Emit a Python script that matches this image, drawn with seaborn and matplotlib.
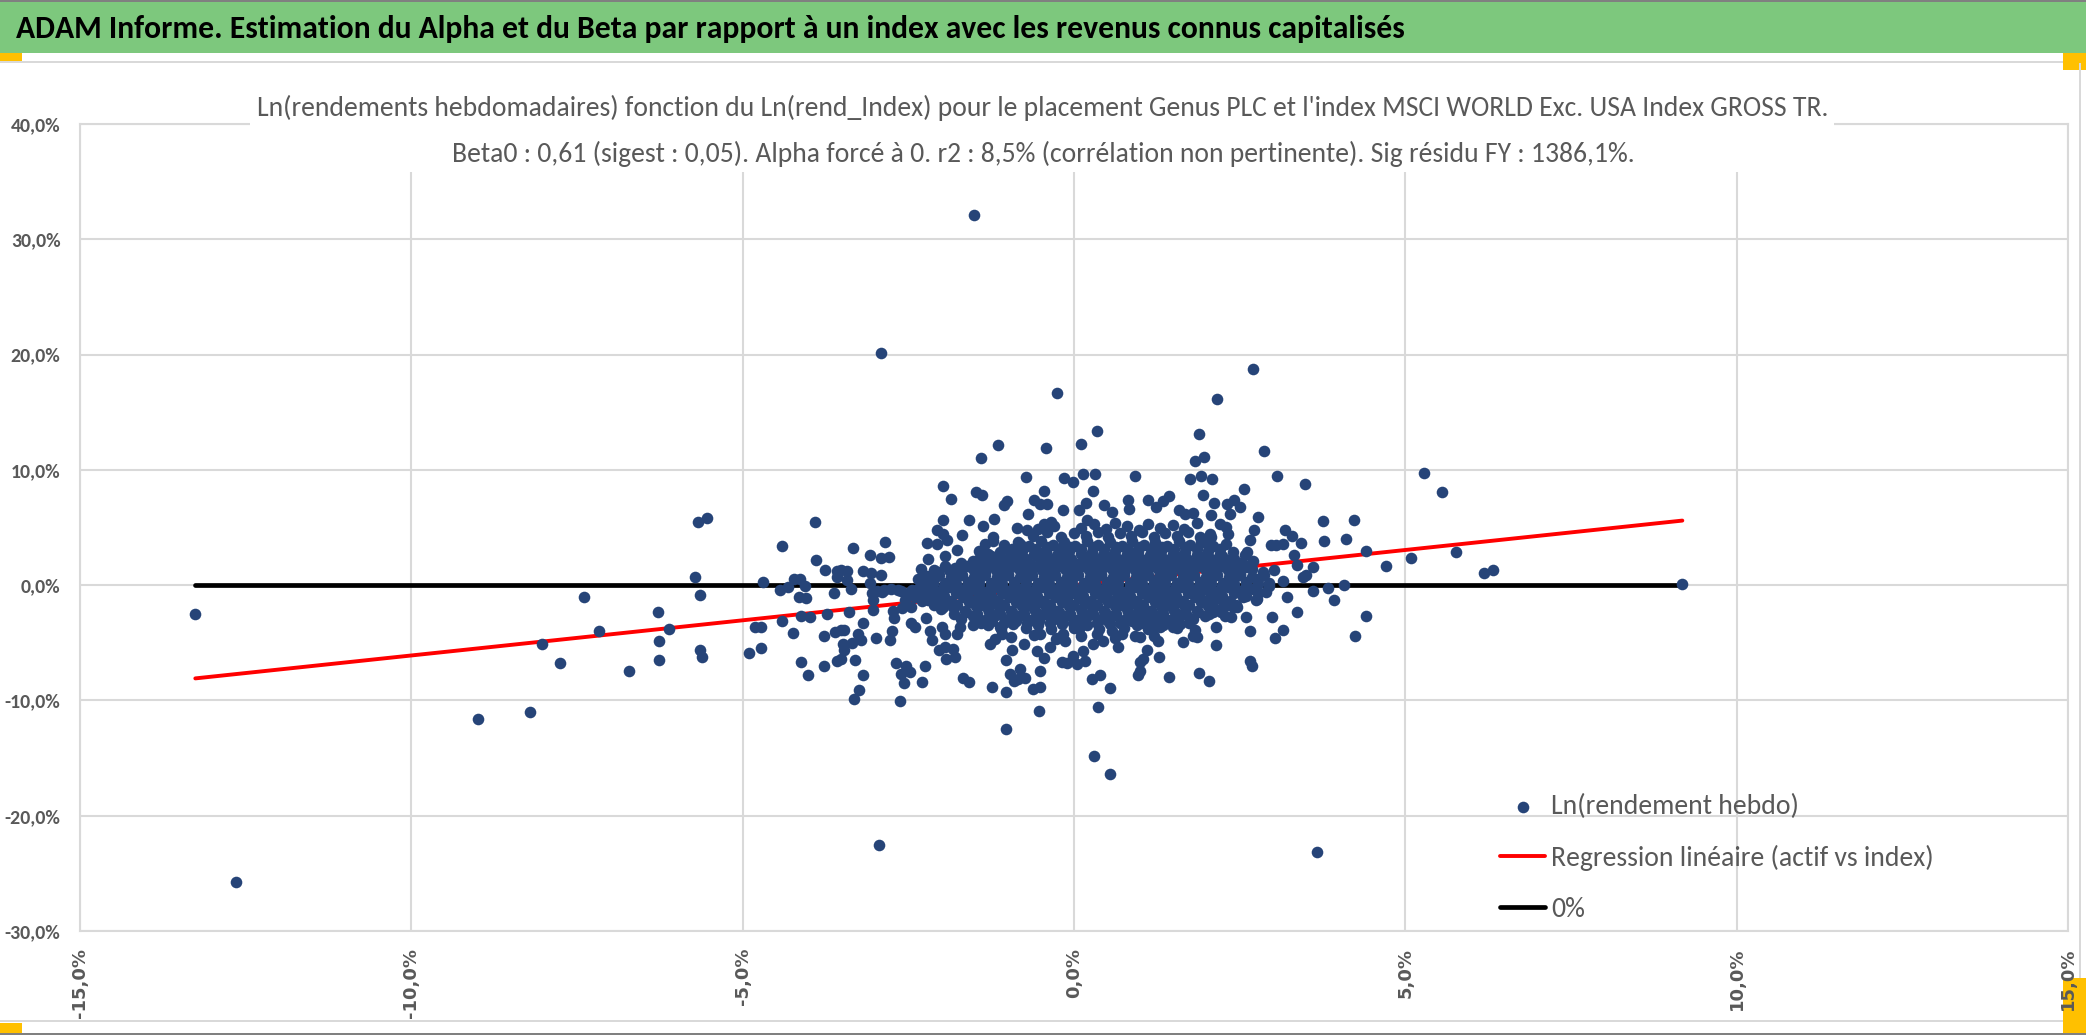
import matplotlib
matplotlib.use("Agg")
import matplotlib.pyplot as plt
import seaborn as sns
import pandas as pd
from matplotlib import font_manager
from matplotlib.patches import Rectangle
from matplotlib.ticker import FixedLocator, FuncFormatter

# textes du graphique
header = "ADAM Informe. Estimation du Alpha et du Beta par rapport à un index avec les revenus connus capitalisés"
title_1 = ("Ln(rendements hebdomadaires) fonction du Ln(rend_Index) pour le placement Genus PLC "
           "et l'index MSCI WORLD Exc. USA Index GROSS TR.")
title_2 = ("Beta0 : 0,61 (sigest : 0,05). Alpha forcé à 0. r2 : 8,5% (corrélation non pertinente). "
           "Sig résidu FY : 1386,1%.")
lab_points = "Ln(rendement hebdo)"
lab_reg = "Regression linéaire (actif vs index)"
lab_zero = "0%"

beta0 = 0.61
x_ticks = [-15, -10, -5, 0, 5, 10, 15]
y_ticks = [-30, -20, -10, 0, 10, 20, 30, 40]

# points : (rend index %, rend hebdo %)
pts_gauche = [
    (-13.26, -2.49), (-12.64, -25.75), (-8.99, -11.65), (-8.21, -10.98), (-8.03, -5.10),
    (-7.76, -6.78), (-7.39, -0.99), (-7.17, -4.00), (-6.72, -7.45), (-6.28, -2.29),
    (-6.26, -4.84), (-6.27, -6.52), (-6.11, -3.80), (-5.72, 0.69), (-5.68, 5.44),
    (-5.54, 5.85), (-5.64, -0.82), (-5.64, -5.62), (-5.61, -6.26), (-4.90, -5.88),
    (-4.73, -5.46), (-4.81, -3.61), (-4.72, -3.67), (-4.70, 0.23), (-4.41, 3.38),
    (-4.43, -0.41), (-4.41, -3.14), (-4.31, -0.18), (-4.24, -4.18), (-4.23, 0.54),
    (-4.14, 0.54), (-4.15, -0.99), (-4.04, -1.10), (-4.12, -2.71), (-4.12, -6.71),
    (-4.06, -0.05), (-4.02, -7.83), (-3.99, -2.79), (-3.91, 5.44), (-3.90, 2.20),
    (-3.78, -7.05), (-3.78, -4.38), (-3.76, 1.35), (-3.73, -2.50), (-3.62, -0.67),
    (-3.61, -4.03), (-3.58, 1.26), (-3.51, 1.35), (-3.43, 1.24), (-3.57, 0.68),
    (-3.51, -3.89), (-3.47, -3.89), (-3.58, -6.55), (-3.51, -6.43), (-3.47, -5.60),
    (-3.48, -5.11), (-3.42, 0.48), (-3.39, -2.33), (-3.37, -0.36), (-3.34, 3.20),
    (-3.35, -5.05), (-3.32, -9.85), (-3.30, -6.49), (-3.26, -4.24), (-3.24, -9.13),
    (-3.22, -4.76), (-3.18, -3.26), (-3.19, -7.83), (-3.18, 1.21), (-3.08, 2.62),
    (-3.08, 0.16), (-3.07, 1.03), (-3.05, -0.70), (-3.04, -1.28), (-3.04, -2.15),
    (-2.99, -4.59), (-2.92, 2.36), (-2.79, 2.45), (-2.91, 0.91), (-2.85, 3.76),
    (-2.89, -0.62), (-2.77, -4.76), (-2.74, -3.95), (-2.73, -2.24), (-2.72, -2.85),
    (-2.69, -6.78), (-2.62, -10.08), (-2.61, -7.72), (-2.56, -8.53), (-2.54, -7.05),
    (-2.48, -7.57), (-2.60, -2.01), (-2.61, -0.47), (-2.51, -0.64), (-2.46, -1.93),
    (-2.46, -3.32), (-2.40, -3.67), (-2.35, -0.33), (-2.32, -0.76), (-2.31, 1.41),
    (-2.29, -8.38), (-2.25, -6.99), (-2.24, -2.82), (-2.22, 3.64), (-2.20, 2.27),
    (-2.18, -3.95), (-2.14, -4.73), (-2.12, 1.30), (-2.11, -1.60), (-2.07, 3.58),
    (-2.06, 4.74), (-2.04, -5.63), (-2.98, -0.50), (-2.86, -0.40), (-2.76, -0.30),
    (-2.66, -0.40), (-2.45, -0.40), (-2.25, -0.20), (-2.15, -0.60), (-2.40, -1.00),
    (-2.30, -1.40), (-2.20, -1.00), (-2.55, -1.30), (-2.35, 0.50), (-2.22, 0.80),
]

pts_extremes = [
    (-1.51, 32.14), (-2.92, 20.10), (-0.26, 16.67), (2.70, 18.79), (2.16, 16.18),
    (0.34, 13.40), (0.11, 12.27), (-0.42, 11.90), (-1.14, 12.16), (-1.41, 11.06),
    (1.89, 13.10), (1.83, 10.77), (1.96, 11.15), (2.86, 11.60),
    (-2.94, -22.56), (3.66, -23.15), (0.30, -14.80), (0.54, -16.40), (-1.02, -12.49),
    (-0.53, -10.90), (0.36, -10.60),
]

pts_droite = [
    (3.07, 9.46), (3.49, 8.74), (5.28, 9.75), (5.56, 8.07), (5.77, 2.90), (6.18, 1.06),
    (6.33, 1.35), (5.09, 2.36), (4.71, 1.64), (4.40, 3.00), (4.23, 5.67), (4.10, 3.96),
    (3.76, 5.55), (3.77, 3.87), (3.83, -0.27), (3.92, -1.28), (4.08, 0.05), (4.40, -2.70),
    (4.24, -4.38), (3.60, -0.53), (3.61, 1.56), (3.46, 0.69), (3.50, 0.90), (3.42, 3.64),
    (3.29, 4.22), (3.18, 4.74), (3.15, 3.58), (3.05, 3.52), (2.98, 3.44), (3.32, 2.65),
    (3.36, 1.79), (3.22, -1.00), (3.37, -2.30), (3.16, -3.89), (3.04, -4.56), (2.99, -2.79),
    (9.18, 0.11),
]

pts_centre = [
    (-1.97, 8.57), (-1.85, 7.50), (-1.48, 8.08), (-1.39, 7.79), (-1.98, 5.61), (-1.58, 5.61),
    (-1.21, 5.76), (-1.37, 5.09), (-1.06, 6.98), (-1.01, 7.30), (-0.72, 9.38), (-0.61, 7.41),
    (-0.45, 8.16), (-0.51, 7.06), (-0.41, 7.06), (-0.69, 6.19), (-0.46, 5.27), (-0.35, 5.47),
    (-0.17, 6.48), (-0.15, 9.32), (-0.02, 8.92), (0.14, 9.61), (0.32, 9.61), (0.29, 8.16),
    (0.08, 6.48), (0.18, 7.15), (0.19, 5.61), (0.46, 6.98), (0.57, 6.34), (0.82, 7.41),
    (0.83, 6.63), (0.92, 9.47), (1.11, 7.41), (1.23, 6.77), (1.35, 7.30), (1.44, 7.70),
    (1.58, 6.54), (1.68, 6.19), (1.75, 9.18), (1.92, 9.47), (2.09, 9.18), (1.95, 7.79),
    (2.11, 7.15), (2.06, 6.05), (1.80, 6.25), (2.31, 7.06), (2.41, 7.35), (2.51, 6.77),
    (2.56, 8.34), (2.36, 6.19), (2.78, 5.90), (2.21, 5.32),
    (-1.97, 4.46), (-1.69, 4.37), (-1.92, 3.88), (-1.77, 3.01), (-1.94, 2.57), (-1.94, 1.70),
    (-1.35, 3.59), (-1.43, 2.95), (-1.22, 4.17), (-1.22, 3.82), (-0.86, 4.98), (-0.96, 2.86),
    (-0.81, 3.59), (-0.71, 4.75), (-1.11, 2.37), (2.66, 3.88), (2.71, 4.75), (2.61, 2.86),
    (1.95, 3.73), (2.06, 4.17), (2.30, 5.03), (2.33, 4.46), (2.41, 1.70), (2.61, 1.56),
    (-1.99, -3.66), (-1.94, -4.24), (-1.77, -4.24), (-1.72, -3.66), (-1.94, -5.39),
    (-1.82, -5.54), (-1.93, -6.41), (-1.79, -6.26), (-1.68, -8.06), (-1.59, -8.44),
    (-1.52, -3.42), (-1.27, -5.10), (-1.19, -4.67), (-1.09, -4.24), (-1.11, -3.66),
    (-1.23, -8.81), (-1.03, -6.50), (-1.02, -9.25), (-0.94, -5.60), (-0.97, -7.71),
    (-0.91, -8.29), (-0.81, -7.28), (-0.84, -8.15), (-0.74, -8.06), (-0.62, -9.02),
    (-0.52, -8.81), (-0.52, -7.42), (-0.76, -5.10), (-0.56, -5.68), (-0.45, -6.35),
    (-0.51, -4.24), (-0.36, -5.39), (-0.27, -4.67), (-0.18, -6.70), (-0.11, -6.78),
    (-0.16, -4.24), (-0.13, -4.82), (-0.01, -6.12), (0.04, -6.84), (0.14, -5.68),
    (0.17, -6.55), (0.08, -3.80), (0.27, -8.15), (0.39, -7.77), (0.54, -8.93),
    (0.29, -5.10), (0.44, -4.82), (0.67, -5.39), (0.72, -4.24), (0.57, -3.95),
    (0.92, -4.38), (0.99, -6.70), (1.04, -6.41), (1.00, -7.42), (0.97, -7.77),
    (1.10, -5.60), (1.20, -4.38), (1.27, -4.82), (1.29, -6.26), (1.44, -8.00),
    (1.20, -3.66), (1.30, -3.66), (1.60, -3.37), (1.50, -3.66), (1.64, -4.96),
    (1.83, -3.89), (1.80, -4.38), (1.85, -4.47), (1.89, -7.65), (2.04, -8.35),
    (2.10, -2.35), (2.14, -3.60), (2.14, -5.16), (2.28, -1.77), (2.28, -2.64),
    (2.37, -2.73), (2.46, -1.92), (2.60, -2.79), (2.65, -4.00), (2.66, -6.55),
    (2.68, -6.99), (2.76, -1.19), (-1.97, -1.92),
]

# coeur du nuage, estimé rangée par rangée
nuage = [
    (0.10, 5.0), (0.30, 5.3), (0.48, 4.9), (0.62, 5.4), (0.80, 5.1), (0.98, 4.8), (1.12, 5.3),
    (1.30, 5.0), (1.50, 5.2), (1.66, 4.9), (1.85, 5.4), (-0.55, 4.9), (-0.30, 5.1),
    (-0.62, 4.3), (-0.40, 4.6), (-0.20, 4.2), (0.00, 4.5), (0.18, 4.3), (0.36, 4.6), (0.52, 4.2),
    (0.70, 4.5), (0.86, 4.3), (1.02, 4.6), (1.20, 4.2), (1.38, 4.5), (1.55, 4.3), (1.72, 4.6),
    (1.90, 4.2), (2.05, 4.4),
    (-1.05, 3.5), (-0.85, 3.7), (-0.68, 3.4), (-0.50, 3.8), (-0.32, 3.5), (-0.15, 3.7),
    (0.02, 3.4), (0.20, 3.8), (0.36, 3.5), (0.54, 3.7), (0.72, 3.4), (0.88, 3.8), (1.05, 3.5),
    (1.22, 3.7), (1.40, 3.4), (1.58, 3.8), (1.75, 3.5), (1.92, 3.7), (2.10, 3.4), (2.30, 3.6),
    (-1.30, 2.7), (-1.12, 2.9), (-0.95, 2.6), (-0.78, 3.0), (-0.60, 2.7), (-0.42, 2.9),
    (-0.25, 2.6), (-0.08, 3.0), (0.10, 2.7), (0.27, 2.9), (0.44, 2.6), (0.62, 3.0), (0.80, 2.7),
    (0.97, 2.9), (1.15, 2.6), (1.32, 3.0), (1.50, 2.7), (1.68, 2.9), (1.85, 2.6), (2.02, 3.0),
    (2.20, 2.7), (2.40, 2.9), (2.58, 2.6),
    (-1.70, 1.9), (-1.52, 2.1), (-1.35, 1.8), (-1.18, 2.2), (-1.00, 1.9), (-0.83, 2.1),
    (-0.66, 1.8), (-0.48, 2.2), (-0.30, 1.9), (-0.13, 2.1), (0.05, 1.8), (0.22, 2.2), (0.40, 1.9),
    (0.57, 2.1), (0.75, 1.8), (0.92, 2.2), (1.10, 1.9), (1.27, 2.1), (1.45, 1.8), (1.62, 2.2),
    (1.80, 1.9), (1.97, 2.1), (2.15, 1.8), (2.32, 2.2), (2.50, 1.9), (2.70, 2.1),
    (-2.05, 1.1), (-1.88, 1.3), (-1.70, 1.0), (-1.53, 1.4), (-1.35, 1.1), (-1.18, 1.3),
    (-1.00, 1.0), (-0.83, 1.4), (-0.65, 1.1), (-0.48, 1.3), (-0.30, 1.0), (-0.13, 1.4),
    (0.05, 1.1), (0.22, 1.3), (0.40, 1.0), (0.57, 1.4), (0.75, 1.1), (0.92, 1.3), (1.10, 1.0),
    (1.27, 1.4), (1.45, 1.1), (1.62, 1.3), (1.80, 1.0), (1.97, 1.4), (2.15, 1.1), (2.32, 1.3),
    (2.50, 1.0), (2.68, 1.4), (2.85, 1.1), (3.02, 1.3),
    (-2.30, 0.3), (-2.12, 0.5), (-1.95, 0.2), (-1.78, 0.6), (-1.60, 0.3), (-1.43, 0.5),
    (-1.25, 0.2), (-1.08, 0.6), (-0.90, 0.3), (-0.73, 0.5), (-0.55, 0.2), (-0.38, 0.6),
    (-0.20, 0.3), (-0.03, 0.5), (0.15, 0.2), (0.32, 0.6), (0.50, 0.3), (0.67, 0.5), (0.85, 0.2),
    (1.02, 0.6), (1.20, 0.3), (1.37, 0.5), (1.55, 0.2), (1.72, 0.6), (1.90, 0.3), (2.07, 0.5),
    (2.25, 0.2), (2.42, 0.6), (2.60, 0.3), (2.78, 0.5), (2.95, 0.2), (3.15, 0.4),
    (-2.40, -0.5), (-2.22, -0.3), (-2.05, -0.6), (-1.88, -0.2), (-1.70, -0.5), (-1.53, -0.3),
    (-1.35, -0.6), (-1.18, -0.2), (-1.00, -0.5), (-0.83, -0.3), (-0.65, -0.6), (-0.48, -0.2),
    (-0.30, -0.5), (-0.13, -0.3), (0.05, -0.6), (0.22, -0.2), (0.40, -0.5), (0.57, -0.3),
    (0.75, -0.6), (0.92, -0.2), (1.10, -0.5), (1.27, -0.3), (1.45, -0.6), (1.62, -0.2),
    (1.80, -0.5), (1.97, -0.3), (2.15, -0.6), (2.32, -0.2), (2.50, -0.5), (2.70, -0.3),
    (2.90, -0.6),
    (-2.20, -1.3), (-2.02, -1.1), (-1.85, -1.4), (-1.68, -1.0), (-1.50, -1.3), (-1.33, -1.1),
    (-1.15, -1.4), (-0.98, -1.0), (-0.80, -1.3), (-0.63, -1.1), (-0.45, -1.4), (-0.28, -1.0),
    (-0.10, -1.3), (0.07, -1.1), (0.25, -1.4), (0.42, -1.0), (0.60, -1.3), (0.77, -1.1),
    (0.95, -1.4), (1.12, -1.0), (1.30, -1.3), (1.47, -1.1), (1.65, -1.4), (1.82, -1.0),
    (2.00, -1.3), (2.17, -1.1), (2.35, -1.4), (2.55, -1.0), (2.75, -1.3),
    (-2.00, -2.1), (-1.82, -1.9), (-1.65, -2.2), (-1.48, -1.8), (-1.30, -2.1), (-1.13, -1.9),
    (-0.95, -2.2), (-0.78, -1.8), (-0.60, -2.1), (-0.43, -1.9), (-0.25, -2.2), (-0.08, -1.8),
    (0.10, -2.1), (0.27, -1.9), (0.45, -2.2), (0.62, -1.8), (0.80, -2.1), (0.97, -1.9),
    (1.15, -2.2), (1.32, -1.8), (1.50, -2.1), (1.67, -1.9), (1.85, -2.2), (2.02, -1.8),
    (2.20, -2.1), (2.40, -1.9),
    (-1.70, -2.9), (-1.52, -2.7), (-1.35, -3.0), (-1.18, -2.6), (-1.00, -2.9), (-0.83, -2.7),
    (-0.65, -3.0), (-0.48, -2.6), (-0.30, -2.9), (-0.13, -2.7), (0.05, -3.0), (0.22, -2.6),
    (0.40, -2.9), (0.57, -2.7), (0.75, -3.0), (0.92, -2.6), (1.10, -2.9), (1.27, -2.7),
    (1.45, -3.0), (1.62, -2.6), (1.80, -2.9), (1.98, -2.7),
    (-1.30, -3.5), (-1.10, -3.8), (-0.92, -3.4), (-0.72, -3.7), (-0.55, -3.5), (-0.35, -3.8),
    (-0.18, -3.4), (0.00, -3.7), (0.20, -3.5), (0.38, -3.8), (0.55, -3.4), (0.75, -3.7),
    (0.95, -3.5), (1.12, -3.8), (1.35, -3.5), (1.55, -3.7),
    (-0.95, -4.5), (-0.60, -4.3), (-0.25, -4.6), (0.10, -4.4), (0.35, -4.2), (0.62, -4.6),
    (1.00, -4.5),
]

# second passage dans le coeur, entre les rangées précédentes
nuage_2 = [
    (-0.93, 3.1), (-0.76, 3.3), (-0.58, 3.1), (-0.41, 3.3), (-0.23, 3.1), (-0.06, 3.3),
    (0.11, 3.1), (0.29, 3.3), (0.46, 3.1), (0.63, 3.3), (0.81, 3.1), (0.98, 3.3), (1.16, 3.1),
    (1.33, 3.3), (1.51, 3.1), (1.68, 3.3), (1.86, 3.1), (2.03, 3.3), (2.20, 3.1),
    (-1.43, 2.3), (-1.26, 2.5), (-1.08, 2.3), (-0.91, 2.5), (-0.73, 2.3), (-0.56, 2.5),
    (-0.38, 2.3), (-0.21, 2.5), (-0.04, 2.3), (0.14, 2.5), (0.31, 2.3), (0.49, 2.5),
    (0.66, 2.3), (0.84, 2.5), (1.01, 2.3), (1.19, 2.5), (1.36, 2.3), (1.54, 2.5), (1.71, 2.3),
    (1.89, 2.5), (2.06, 2.3), (2.24, 2.5), (2.42, 2.3),
    (-1.79, 1.5), (-1.61, 1.7), (-1.44, 1.5), (-1.26, 1.7), (-1.09, 1.5), (-0.91, 1.7),
    (-0.74, 1.5), (-0.56, 1.7), (-0.39, 1.5), (-0.21, 1.7), (-0.04, 1.5), (0.14, 1.7),
    (0.31, 1.5), (0.49, 1.7), (0.66, 1.5), (0.84, 1.7), (1.01, 1.5), (1.19, 1.7), (1.36, 1.5),
    (1.54, 1.7), (1.71, 1.5), (1.89, 1.7), (2.06, 1.5), (2.24, 1.7), (2.41, 1.5), (2.59, 1.7),
    (-2.21, 0.7), (-2.04, 0.9), (-1.86, 0.7), (-1.69, 0.9), (-1.51, 0.7), (-1.34, 0.9),
    (-1.16, 0.7), (-0.99, 0.9), (-0.81, 0.7), (-0.64, 0.9), (-0.46, 0.7), (-0.29, 0.9),
    (-0.11, 0.7), (0.06, 0.9), (0.24, 0.7), (0.41, 0.9), (0.59, 0.7), (0.76, 0.9), (0.94, 0.7),
    (1.11, 0.9), (1.29, 0.7), (1.46, 0.9), (1.64, 0.7), (1.81, 0.9), (1.99, 0.7), (2.16, 0.9),
    (2.34, 0.7), (2.51, 0.9), (2.69, 0.7), (2.87, 0.9),
    (-2.31, -0.1), (-2.13, 0.1), (-1.96, -0.1), (-1.78, 0.1), (-1.61, -0.1), (-1.43, 0.1),
    (-1.26, -0.1), (-1.08, 0.1), (-0.91, -0.1), (-0.73, 0.1), (-0.56, -0.1), (-0.38, 0.1),
    (-0.21, -0.1), (-0.03, 0.1), (0.14, -0.1), (0.32, 0.1), (0.49, -0.1), (0.67, 0.1),
    (0.84, -0.1), (1.02, 0.1), (1.19, -0.1), (1.37, 0.1), (1.54, -0.1), (1.72, 0.1),
    (1.89, -0.1), (2.07, 0.1), (2.24, -0.1), (2.42, 0.1), (2.59, -0.1), (2.77, 0.1), (2.95, -0.1),
    (-2.31, -0.9), (-2.13, -0.7), (-1.96, -0.9), (-1.78, -0.7), (-1.61, -0.9), (-1.43, -0.7),
    (-1.26, -0.9), (-1.08, -0.7), (-0.91, -0.9), (-0.73, -0.7), (-0.56, -0.9), (-0.38, -0.7),
    (-0.21, -0.9), (-0.03, -0.7), (0.14, -0.9), (0.32, -0.7), (0.49, -0.9), (0.67, -0.7),
    (0.84, -0.9), (1.02, -0.7), (1.19, -0.9), (1.37, -0.7), (1.54, -0.9), (1.72, -0.7),
    (1.89, -0.9), (2.07, -0.7), (2.24, -0.9), (2.42, -0.7), (2.59, -0.9), (2.77, -0.7),
    (-2.11, -1.7), (-1.93, -1.5), (-1.76, -1.7), (-1.58, -1.5), (-1.41, -1.7), (-1.23, -1.5),
    (-1.06, -1.7), (-0.88, -1.5), (-0.71, -1.7), (-0.53, -1.5), (-0.36, -1.7), (-0.18, -1.5),
    (-0.01, -1.7), (0.17, -1.5), (0.34, -1.7), (0.52, -1.5), (0.69, -1.7), (0.87, -1.5),
    (1.04, -1.7), (1.22, -1.5), (1.39, -1.7), (1.57, -1.5), (1.74, -1.7), (1.92, -1.5),
    (2.09, -1.7), (2.27, -1.5), (2.45, -1.7),
    (-1.81, -2.5), (-1.63, -2.3), (-1.46, -2.5), (-1.28, -2.3), (-1.11, -2.5), (-0.93, -2.3),
    (-0.76, -2.5), (-0.58, -2.3), (-0.41, -2.5), (-0.23, -2.3), (-0.06, -2.5), (0.12, -2.3),
    (0.29, -2.5), (0.47, -2.3), (0.64, -2.5), (0.82, -2.3), (0.99, -2.5), (1.17, -2.3),
    (1.34, -2.5), (1.52, -2.3), (1.69, -2.5), (1.87, -2.3), (2.04, -2.5), (2.22, -2.3),
    (-1.41, -3.3), (-1.23, -3.1), (-1.06, -3.3), (-0.88, -3.1), (-0.71, -3.3), (-0.53, -3.1),
    (-0.36, -3.3), (-0.18, -3.1), (-0.01, -3.3), (0.17, -3.1), (0.34, -3.3), (0.52, -3.1),
    (0.69, -3.3), (0.87, -3.1), (1.04, -3.3), (1.22, -3.1), (1.39, -3.3), (1.57, -3.1),
    (1.74, -3.3),
]

df = pd.DataFrame(pts_gauche + pts_extremes + pts_droite + pts_centre + nuage + nuage_2,
                  columns=["rend_index", "rend_hebdo"])
x_min, x_max = df["rend_index"].min(), df["rend_index"].max()

sns.set_theme(style="white")
names = {f.name for f in font_manager.fontManager.ttflist}
narrow = "Liberation Sans"
for cand in ["Carlito", "Liberation Sans Narrow", "Archivo Narrow", "Asap Condensed"]:
    if cand in names:
        narrow = cand
        break
plt.rcParams["font.family"] = [narrow, "DejaVu Sans"]

W, H = 2086, 1035
GREY_TXT = "#595959"
GRID = "#D9D9D9"
fig = plt.figure(figsize=(W / 100, H / 100), dpi=100)
renderer = fig.canvas.get_renderer()


def fit(s, width_px, **kw):
    # taille de police (pt) pour qu'un texte fasse width_px pixels de large
    t = fig.text(0, 0, s, fontsize=20, **kw)
    w = t.get_window_extent(renderer).width
    t.remove()
    return 20 * width_px / w


def box(x0, y0, x1, y1, color, z=-1):
    # rectangle en pixels, origine en haut à gauche
    fig.add_artist(Rectangle((x0 / W, 1 - y1 / H), (x1 - x0) / W, (y1 - y0) / H,
                             transform=fig.transFigure, facecolor=color,
                             edgecolor="none", zorder=z))


# cadre type Excel
box(0, 0, W, 2, "#808080")
box(0, 2, W, 53, "#7DC87D")
box(0, 61, 2081, 63, GRID)
box(0, 53, 22, 61, "#FFC000")
box(2063, 53, W, 70, "#FFC000")
box(2079, 63, 2081, 978, GRID)
box(0, 1020, 2063, 1022, GRID)
box(0, 1023, 22, 1033, "#FFC000")
box(2063, 978, W, 1033, "#FFC000")
box(0, 1033, W, H, "#808080")

hs = fit(header, 1391, weight="bold")
fig.text(16 / W, 1 - 38 / H, header, fontsize=hs, weight="bold", color="black",
         va="baseline", ha="left", zorder=6)

ax = fig.add_axes([80 / W, 1 - 931 / H, (2068 - 80) / W, (931 - 124) / H])

sns.lineplot(x=[x_min, x_max], y=[0, 0], color="black", linewidth=3.4,
             label=lab_zero, ax=ax, zorder=2)
sns.lineplot(x=[x_min, x_max], y=[beta0 * x_min, beta0 * x_max], color="#FF0000",
             linewidth=2.8, label=lab_reg, ax=ax, zorder=2)
sns.scatterplot(data=df, x="rend_index", y="rend_hebdo", color="#264478", s=70,
                linewidth=0, label=lab_points, ax=ax, zorder=3)

ax.set_xlim(-15, 15)
ax.set_ylim(-30, 40)
ax.xaxis.set_major_locator(FixedLocator(x_ticks))
ax.yaxis.set_major_locator(FixedLocator(y_ticks))
pct = FuncFormatter(lambda v, p: f"{v:.1f}%".replace(".", ","))
ax.xaxis.set_major_formatter(pct)
ax.yaxis.set_major_formatter(pct)
ax.set_xlabel("")
ax.set_ylabel("")
ax.grid(True, color=GRID, linewidth=1.5)
ax.set_axisbelow(True)
for sp in ax.spines.values():
    sp.set_color(GRID)
    sp.set_linewidth(1.5)

xs = fit("-15,0%", 70, family="DejaVu Sans", weight="bold")
ys = fit("40,0%", 50, weight="bold")
ax.tick_params(length=0)
ax.tick_params(axis="x", pad=12, labelrotation=90, labelsize=xs, labelcolor=GREY_TXT)
ax.tick_params(axis="y", pad=14, labelsize=ys, labelcolor=GREY_TXT)
for t in ax.get_xticklabels():
    t.set_fontfamily("DejaVu Sans")
    t.set_fontweight("bold")
for t in ax.get_yticklabels():
    t.set_fontweight("bold")

# titre du graphique, sur fond blanc au-dessus du quadrillage
box(250, 82, 1834, 172, "white", z=1)
ts = (fit(title_1, 1576) + fit(title_2, 1180)) / 2
fig.text(0.5, 1 - 116 / H, title_1, fontsize=ts, color=GREY_TXT, ha="center",
         va="baseline", zorder=3)
fig.text(0.5, 1 - 162 / H, title_2, fontsize=ts, color=GREY_TXT, ha="center",
         va="baseline", zorder=3)

# légende en bas à droite
ls = fit(lab_reg, 382)
fpx = ls * 100 / 72
handles, labels = ax.get_legend_handles_labels()
order = [labels.index(lab_points), labels.index(lab_reg), labels.index(lab_zero)]
ax.legend([handles[i] for i in order], [labels[i] for i in order],
          loc="center left", bbox_to_anchor=(1500 / W, 1 - 858 / H),
          bbox_transform=fig.transFigure, frameon=False, fontsize=ls,
          labelcolor=GREY_TXT, handlelength=45 / fpx, handletextpad=6 / fpx,
          labelspacing=(58 - 1.17 * fpx) / fpx, borderpad=0, borderaxespad=0)

fig.savefig("out.png", dpi=100)
